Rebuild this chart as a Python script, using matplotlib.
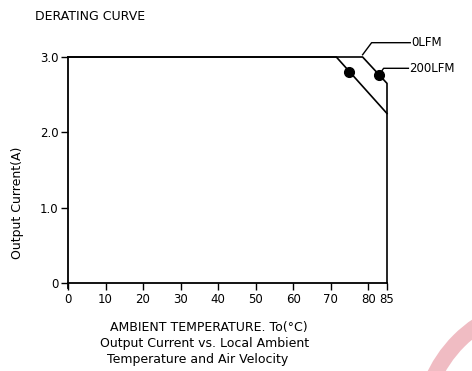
import matplotlib.pyplot as plt
from matplotlib.patches import Wedge

# derating curves (ambient temp in C, output current in A)
temp_0lfm = [0, 71.5, 85]
curr_0lfm = [3.0, 3.0, 2.25]
temp_200lfm = [0, 78.5, 85, 85]
curr_200lfm = [3.0, 3.0, 2.65, 0]
marker_temp = [75, 83]
marker_curr = [2.8, 2.76]

xticks = [0, 10, 20, 30, 40, 50, 60, 70, 80, 85]
yticks = [0, 1, 2, 3]
ytick_labels = ['0', '1.0', '2.0', '3.0']

fig = plt.figure(figsize=(4.72, 3.71), dpi=100)

# pink watermark arc in the corner
bg = fig.add_axes([0, 0, 1, 1], zorder=-1)
bg.set_xlim(0, 472)
bg.set_ylim(371, 0)
bg.axis('off')
bg.add_patch(Wedge((548, 430), 134, 0, 360, width=16, color='#f0bcc3', lw=0))

ax = fig.add_axes([68/472, 1-283/371, 319/472, 226/371])
ax.patch.set_alpha(0)
ax.set_xlim(0, 85)
ax.set_ylim(0, 3.0)
for s in ['top', 'right']:
    ax.spines[s].set_visible(False)
for s in ['left', 'bottom']:
    ax.spines[s].set_linewidth(1.3)
ax.spines['left'].set_bounds(-0.07, 3.0)

ax.plot(temp_0lfm, curr_0lfm, color='black', lw=1.2, clip_on=False)
ax.plot(temp_200lfm, curr_200lfm, color='black', lw=1.2, clip_on=False)
ax.plot(marker_temp, marker_curr, 'o', color='black', ms=7, clip_on=False)

# leader lines to labels
ax.plot([78.5, 80.9, 91.2], [3.03, 3.19, 3.19], color='black', lw=1.0, clip_on=False)
ax.plot([83, 84.1, 90.7], [2.77, 2.85, 2.85], color='black', lw=1.0, clip_on=False)
ax.text(91.4, 3.19, '0LFM', fontsize=8.5, va='center', ha='left')
ax.text(91.0, 2.85, '200LFM', fontsize=8.5, va='center', ha='left')

ax.set_xticks(xticks)
ax.set_xticklabels([str(t) for t in xticks], fontsize=8.5)
ax.set_yticks(yticks)
ax.set_yticklabels(ytick_labels, fontsize=8.5)
ax.tick_params(axis='both', direction='out', length=5, width=1.0, pad=2)

fig.text(35/472, 1-17/371, 'DERATING CURVE', fontsize=9, va='center', ha='left')
fig.text(18/472, 1-203/371, 'Output Current(A)', fontsize=9, rotation=90,
         va='center', ha='center')
fig.text(209/472, 1-328/371, 'AMBIENT TEMPERATURE. To(°C)', fontsize=9,
         va='center', ha='center')
fig.text(205/472, 1-344/371, 'Output Current vs. Local Ambient', fontsize=9,
         va='center', ha='center')
fig.text(198/472, 1-359/371, 'Temperature and Air Velocity', fontsize=9,
         va='center', ha='center')

plt.savefig('out.png', dpi=100)
